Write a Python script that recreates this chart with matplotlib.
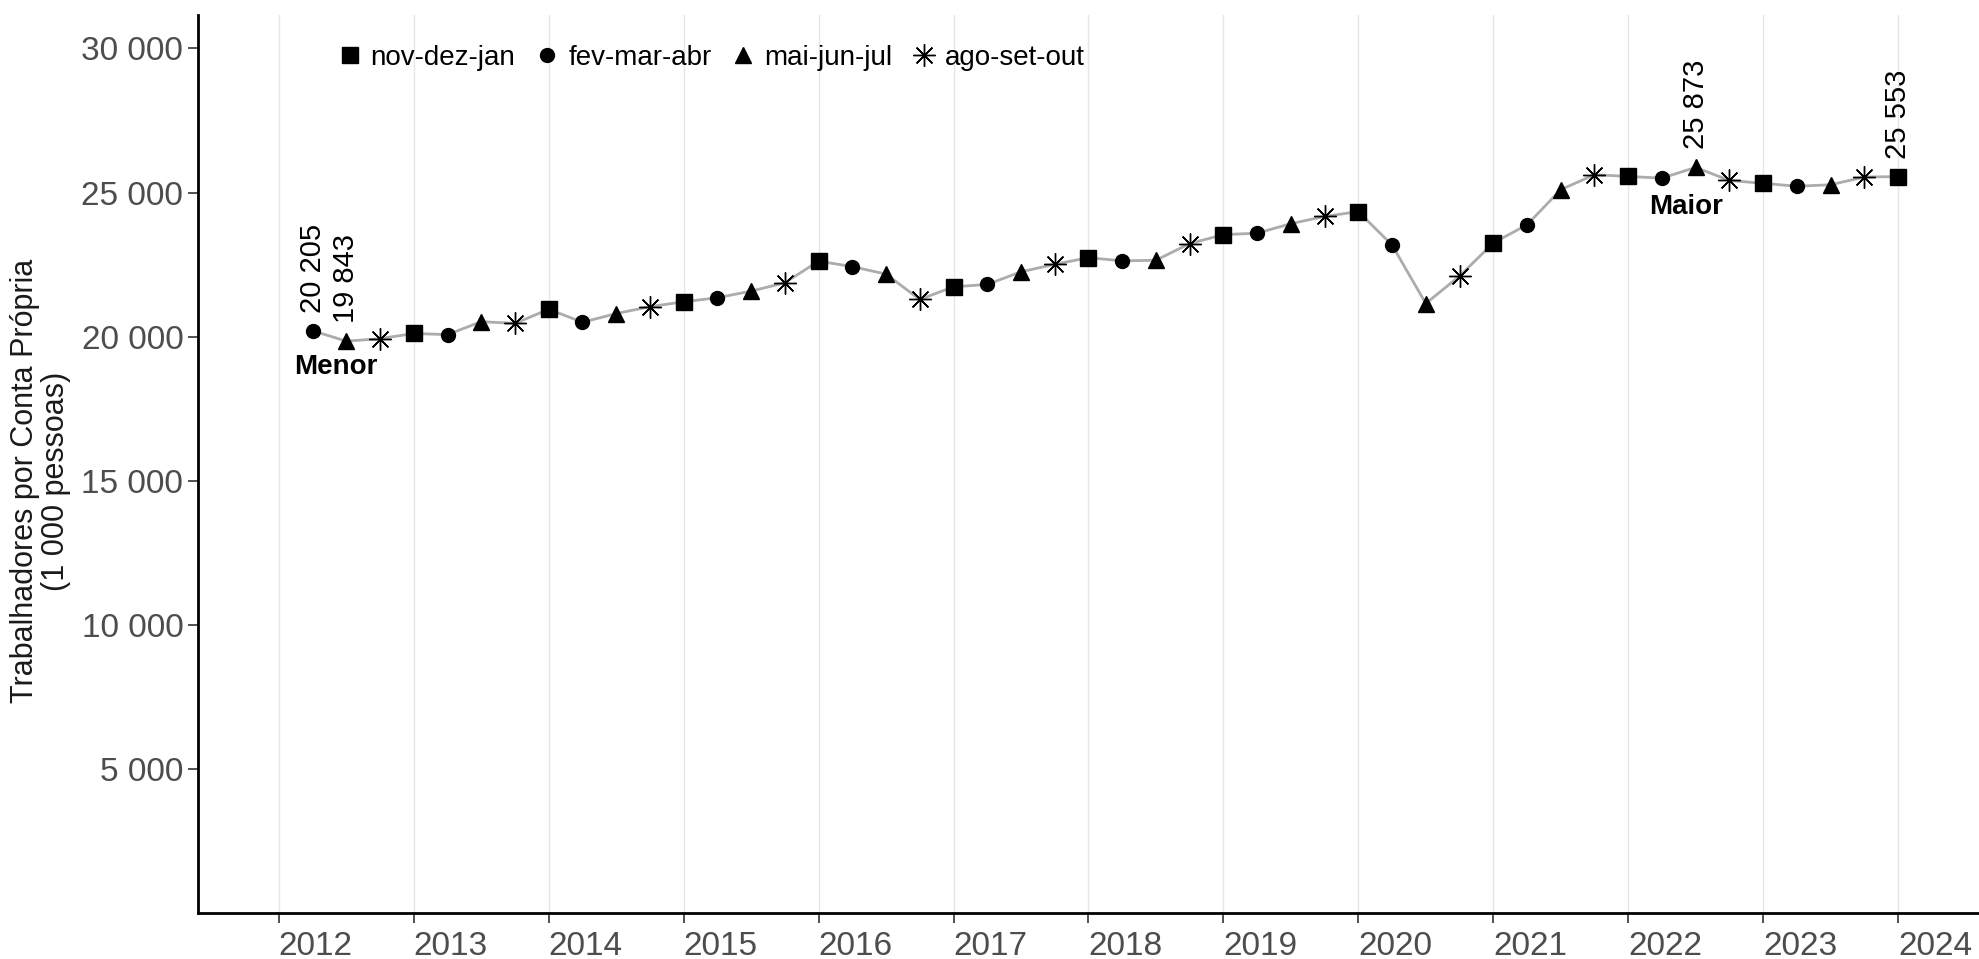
import matplotlib.pyplot as plt
from matplotlib.lines import Line2D

plt.rcParams['font.family'] = ['Liberation Sans', 'DejaVu Sans']

# trimestres móveis: fev-mar-abr/2012 até nov-dez-jan/2024
anos = list(range(2012, 2025))
x_tri = [2012 + 0.25 * (i + 1) for i in range(48)]
tipo = ['fev-mar-abr', 'mai-jun-jul', 'ago-set-out', 'nov-dez-jan'] * 12
valores = [
    20205, 19843, 19930, 20110,
    20070, 20520, 20460, 20950,
    20500, 20800, 21040, 21210,
    21350, 21580, 21870, 22620,
    22430, 22170, 21290, 21730,
    21810, 22250, 22510, 22740,
    22630, 22650, 23230, 23540,
    23590, 23920, 24170, 24340,
    23180, 21150, 22100, 23250,
    23880, 25100, 25620, 25560,
    25500, 25873, 25420, 25320,
    25220, 25270, 25540, 25553,
]
rotulos_pontos = {0: '20 205', 1: '19 843', 41: '25 873', 47: '25 553'}

marcadores = {
    'nov-dez-jan': dict(marker='s', markersize=11),
    'fev-mar-abr': dict(marker='o', markersize=10),
    'mai-jun-jul': dict(marker='^', markersize=11),
    'ago-set-out': dict(marker=(8, 2, 0), markersize=16),
}
ordem_legenda = ['nov-dez-jan', 'fev-mar-abr', 'mai-jun-jul', 'ago-set-out']

fig = plt.figure(figsize=(19.79, 9.59), dpi=100)
ax = fig.add_axes([0.1, 0.048, 0.9, 0.936])

ax.plot(x_tri, valores, color='#ABABB0', linewidth=2, zorder=2)

for t in ordem_legenda:
    xs = [x for x, k in zip(x_tri, tipo) if k == t]
    ys = [v for v, k in zip(valores, tipo) if k == t]
    ax.plot(xs, ys, linestyle='none', color='black', markeredgecolor='black',
            markeredgewidth=1.0, zorder=3, **marcadores[t])

for i, txt in rotulos_pontos.items():
    ax.annotate(txt, (x_tri[i], valores[i]), xytext=(0, 13), textcoords='offset points',
                rotation=90, ha='center', va='bottom', fontsize=21, color='black')

ax.text(2012.42, 19400, 'Menor', fontsize=20, fontweight='bold', ha='center', va='top')
ax.text(2022.43, 24950, 'Maior', fontsize=20, fontweight='bold', ha='center', va='top')

ax.set_xlim(2011.40, 2024.60)
ax.set_ylim(0, 31150)
ax.set_xticks(anos)
ax.set_xticklabels([str(a) for a in anos], ha='left')
yt = [5000, 10000, 15000, 20000, 25000, 30000]
ax.set_yticks(yt)
ax.set_yticklabels([f'{v:,}'.replace(',', ' ') for v in yt])
ax.tick_params(axis='both', labelsize=24, labelcolor='#4D4D4D', color='#333333',
               length=7, width=1.2)
ax.tick_params(axis='x', pad=6)

ax.grid(axis='x', color='#E6E6E6', linewidth=1.0)
ax.set_axisbelow(True)
for s in ['top', 'right']:
    ax.spines[s].set_visible(False)
for s in ['left', 'bottom']:
    ax.spines[s].set_linewidth(2)
    ax.spines[s].set_color('black')

ax.set_ylabel('Trabalhadores por Conta Própria\n(1 000 pessoas)', fontsize=22,
              color='#1A1A1A', linespacing=1.05)
ax.yaxis.set_label_coords(-0.071, 0.481)

handles = [Line2D([], [], linestyle='none', color='black', markeredgecolor='black',
                  markeredgewidth=1.0, **marcadores[t]) for t in ordem_legenda]
ax.legend(handles, ordem_legenda, loc='center left', bbox_to_anchor=(0.065, 0.953),
          ncol=4, frameon=False, fontsize=20, handlelength=0.8, handletextpad=0.35,
          columnspacing=0.75)

fig.savefig('out.png', dpi=100)
